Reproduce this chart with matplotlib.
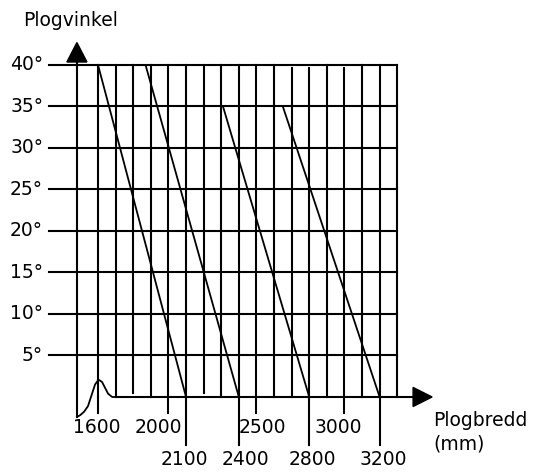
import matplotlib.pyplot as plt
from matplotlib.patches import Polygon

# --- Chart data ---
angles = [5, 10, 15, 20, 25, 30, 35, 40]
angle_labels = ['5°', '10°', '15°', '20°', '25°', '30°', '35°', '40°']
widths = list(range(1600, 3301, 100))          # vertical grid lines (mm)
upper_ticks = [1600, 2000, 2500, 3000]
lower_ticks = [2100, 2400, 2800, 3200]

# sloping lines: start (width, angle) -> end width at 0 deg
start_width = [1600, 1870, 2310, 2650]
start_angle = [40, 40, 35, 35]
end_width = [2100, 2400, 2800, 3200]

# grid lines that are drawn a little short in the original drawing
short_top = [2700, 2800, 3000]
short_bottom = [1800, 2200]

# axis break squiggle at the origin
break_x = [1481, 1498, 1520, 1543, 1566, 1583, 1600, 1606, 1623, 1640, 1657, 1680, 1702]
break_y = [-2.4, -2.2, -1.8, -1.1, 0.4, 1.5, 2.0, 2.05, 1.8, 1.1, 0.4, 0.0, 0.0]

# --- Figure ---
fig = plt.figure(figsize=(5.34, 4.73), dpi=100)
ax = fig.add_axes([0, 0, 1, 1])
ax.set_xlim(1043, 4077)
ax.set_ylim(-9.16, 47.83)
ax.axis('off')

lw = 1.5
k = 'black'
y_axis_x = 1480
tick_left = 1322
font = 13.5
# small hand-placed label nudges as in the original sketch (mm)
upper_nudge = [-6, -57, 34, -34]
lower_nudge = [-11, 40, 17, 23]

# horizontal grid lines (run through the y axis as ticks)
for a in angles:
    ax.plot([tick_left, widths[-1]], [a, a], color=k, lw=lw)

# vertical grid lines
for w in widths:
    top = 39.6 if w in short_top else 40
    bottom = 0.5 if w in short_bottom else 0
    ax.plot([w, w], [bottom, top], color=k, lw=lw)

# long ticks below the axis
for w in upper_ticks:
    ax.plot([w, w], [0, -1.95], color=k, lw=lw)
for w in lower_ticks:
    ax.plot([w, w], [0, -5.8], color=k, lw=lw)

# axes
ax.plot([y_axis_x, y_axis_x], [-2.4, 40.4], color=k, lw=lw)
ax.plot([1700, 3395], [0, 0], color=k, lw=lw)
ax.plot(break_x, break_y, color=k, lw=1.3)
ax.add_patch(Polygon([[y_axis_x - 57, 40.36], [y_axis_x + 57, 40.36], [y_axis_x, 42.7]],
                     closed=True, color=k))
ax.add_patch(Polygon([[3390, -1.15], [3390, 1.15], [3498, 0]], closed=True, color=k))

# sloping lines
for sw, sa, ew in zip(start_width, start_angle, end_width):
    ax.plot([sw, ew], [sa, 0], color=k, lw=1.3)

# labels
for a, lab in zip(angles, angle_labels):
    ax.text(tick_left - 34, a, lab, ha='right', va='center', fontsize=font)
for w, dx in zip(upper_ticks, upper_nudge):
    ax.text(w + dx, -2.5, str(w), ha='center', va='top', fontsize=font)
for w, dx in zip(lower_ticks, lower_nudge):
    ax.text(w + dx, -6.35, str(w), ha='center', va='top', fontsize=font)

ax.text(1174, 46.5, 'Plogvinkel', ha='left', va='top', fontsize=font)
ax.text(3503, -1.75, 'Plogbredd\n(mm)', ha='left', va='top', fontsize=font,
        linespacing=1.25)

fig.savefig('out.png', dpi=100)
